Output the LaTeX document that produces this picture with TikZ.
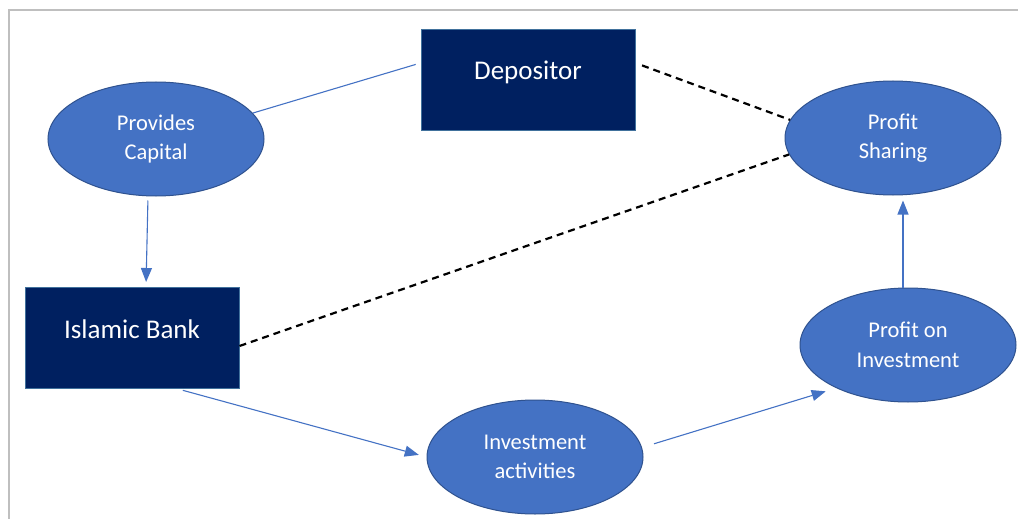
\documentclass[tikz,border=0pt]{standalone}
\usepackage{fontspec}
\setmainfont{Carlito}
\usetikzlibrary{shapes.geometric, arrows.meta}
\definecolor{ovalblue}{HTML}{4472C4}
\definecolor{ovalline}{HTML}{2F528F}
\definecolor{navy}{HTML}{002060}
\definecolor{navyline}{HTML}{41719C}
\definecolor{framegray}{HTML}{BFBFBF}

\begin{document}
\begin{tikzpicture}[x=1pt, y=-1pt]
\tikzstyle{oval}=[ellipse, draw=ovalline, fill=ovalblue, line width=1pt,
                        inner sep=0pt, minimum width=216pt, minimum height=114pt,
                        text=white, align=center, font=\fontsize{22.5}{29.5}\selectfont]
\tikzstyle{box}=[rectangle, draw=navyline, fill=navy, line width=1pt,
                        minimum width=214pt, minimum height=101pt, text=white,
                        text height=18pt, text depth=18pt, font=\fontsize{27}{32}\selectfont]
\tikzstyle{link}=[draw=ovalblue, line width=1.1pt]
\tikzstyle{flow}=[link, -{Triangle[length=14pt, width=11pt]}]
\tikzstyle{share}=[black, line width=2.2pt, dash pattern=on 7pt off 5pt]
\useasboundingbox (0,0) rectangle (1018,519);
\draw[framegray, line width=2pt] (9,519) -- (9,10) -- (1018,10);
	\node[box] (dep) at (528,80){Depositor};
	\node[box] (bank) at (132,338){Islamic Bank};
	\node[oval] (cap) at (156,139){Provides\\Capital};
	\node[oval] (prof) at (893,138){Profit\\Sharing};
	\node[oval] (poi) at (908,345){Profit on\\Investment};
	\node[oval] (inv) at (535,457){Investment\\activities};
\draw[link, shorten >=5pt] (cap.15)--([yshift=17pt]dep.west);
\draw[share, shorten <=7pt] ([yshift=17pt]dep.east)--(prof.170);
\draw[share] ([yshift=-8pt]bank.east)--(prof.189);
\draw[flow, shorten <=4pt, shorten >=5pt] ([xshift=-8pt]cap.south)--([xshift=14pt]bank.north);
\draw[flow, shorten <=5pt, shorten >=8pt] ([xshift=46pt]bank.south)--(inv.west);
\draw[flow, shorten <=11pt, shorten >=11pt] ([yshift=10pt]inv.east)--(poi.211);
\draw[flow, shorten >=5pt] ([xshift=-5pt]poi.north)--([xshift=10pt]prof.south);
\end{tikzpicture}
\end{document}
